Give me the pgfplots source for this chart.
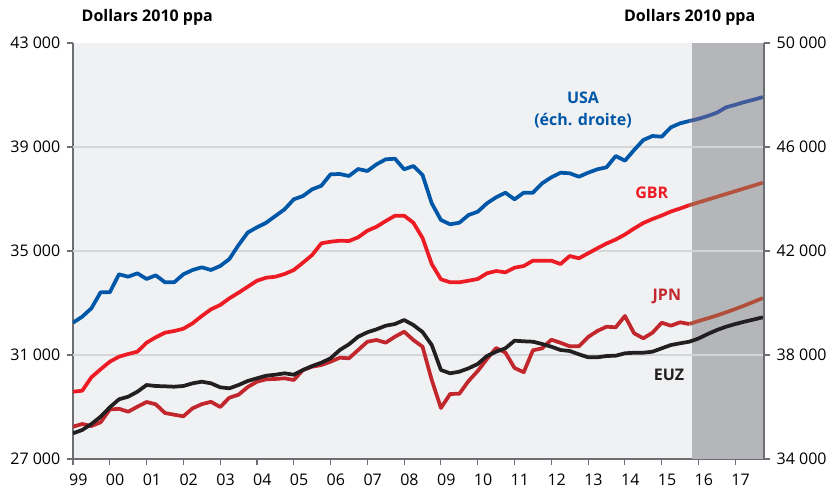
\documentclass[border=0pt]{standalone}
\usepackage{pgfplots}
\pgfplotsset{compat=1.18}
\usepackage{pgfplotstable}
\usepackage{fontspec}
\setmainfont{Open Sans}
\definecolor{usa}{HTML}{0057A8}
\definecolor{usaf}{HTML}{3F5B9B}
\definecolor{gbr}{HTML}{ED1C24}
\definecolor{gbrf}{HTML}{B4533E}
\definecolor{jpn}{HTML}{C1272D}
\definecolor{jpnf}{HTML}{B0503C}
\definecolor{euz}{HTML}{231F20}
\definecolor{bgc}{HTML}{F0F1F3}
\definecolor{fc}{HTML}{B5B6B9}
\definecolor{gridc}{HTML}{D5D6D9}
\definecolor{axc}{HTML}{6D6E71}

\pgfplotstableread{
t usa gbr jpn euz
1999.00 39242 29588 28242 27988
1999.25 39473 29627 28346 28115
1999.50 39796 30142 28269 28346
1999.75 40411 30450 28411 28627
2000.00 40411 30742 28904 28988
2000.25 41104 30934 28931 29296
2000.50 41011 31038 28819 29396
2000.75 41142 31127 29011 29588
2001.00 40923 31473 29192 29846
2001.25 41065 31681 29104 29808
2001.50 40796 31858 28769 29796
2001.75 40796 31923 28704 29781
2002.00 41104 32011 28642 29808
2002.25 41269 32219 28950 29911
2002.50 41373 32500 29108 29973
2002.75 41269 32757 29200 29911
2003.00 41423 32923 29000 29758
2003.25 41692 33180 29358 29719
2003.50 42231 33396 29473 29846
2003.75 42711 33627 29769 30000
2004.00 42911 33857 29973 30104
2004.25 43088 33973 30065 30204
2004.50 43346 34011 30077 30242
2004.75 43603 34115 30104 30296
2005.00 43988 34269 30038 30242
2005.25 44115 34550 30423 30423
2005.50 44373 34846 30550 30577
2005.75 44511 35296 30615 30704
2006.00 44950 35357 30742 30873
2006.25 44961 35396 30896 31192
2006.50 44884 35384 30873 31411
2006.75 45153 35527 31192 31704
2007.00 45076 35780 31511 31873
2007.25 45334 35934 31577 31988
2007.50 45526 36153 31473 32127
2007.75 45550 36357 31704 32192
2008.00 45142 36357 31896 32346
2008.25 45269 36088 31577 32154
2008.50 44923 35500 31319 31884
2008.75 43834 34500 30038 31384
2009.00 43192 33911 28962 30423
2009.25 43027 33796 29500 30296
2009.50 43088 33796 29511 30358
2009.75 43384 33857 30000 30488
2010.00 43511 33923 30385 30654
2010.25 43834 34142 30846 30961
2010.50 44065 34230 31269 31127
2010.75 44242 34180 31096 31257
2011.00 43988 34357 30500 31550
2011.25 44242 34423 30338 31527
2011.50 44242 34627 31181 31511
2011.75 44603 34627 31257 31423
2012.00 44834 34627 31588 31319
2012.25 45011 34500 31469 31192
2012.50 44988 34807 31334 31154
2012.75 44857 34719 31334 31027
2013.00 45011 34911 31692 30911
2013.25 45142 35104 31923 30911
2013.50 45219 35288 32088 30961
2013.75 45653 35442 32065 30973
2014.00 45473 35634 32500 31065
2014.25 45884 35865 31834 31088
2014.50 46269 36077 31642 31088
2014.75 46423 36230 31858 31127
2015.00 46396 36365 32242 31257
2015.25 46757 36519 32127 31384
2015.50 46911 36634 32257 31450
2015.75 47000 36761 32192 31511
2016.00 47084 36869 32307 31634
2016.25 47192 36977 32411 31807
2016.50 47319 37085 32519 31961
2016.75 47526 37193 32642 32088
2017.00 47623 37301 32769 32192
2017.25 47730 37410 32903 32281
2017.50 47819 37518 33046 32365
2017.75 47922 37627 33192 32450
}\data

\begin{document}
\begin{tikzpicture}
\pgfplotsset{
  common/.style={
    scale only axis, width=518.25pt, height=312pt,
    xmin=1999, xmax=2017.78,
    scaled y ticks=false, scaled x ticks=false,
    tick align=outside, major tick length=4.5pt,
    tick style={axc, line width=0.8pt},
    axis line style={axc, line width=1.4pt},
    ticklabel style={font=\fontsize{12}{14}\selectfont, text=black},
  }
}
\begin{axis}[common, name=L,
  ymin=27000, ymax=43000,
  axis y line*=left, axis x line*=bottom,
  axis background/.style={fill=bgc},
  xtick={1999,2000,...,2017},
  xticklabels={99,00,01,02,03,04,05,06,07,08,09,10,11,12,13,14,15,16,17},
  xticklabel style={xshift=4pt, yshift=-3pt},
  ytick={27000,31000,35000,39000,43000},
  yticklabels={27 000,31 000,35 000,39 000,43 000},
  yticklabel style={xshift=-1.5pt},
  clip=true,
]
\addplot[draw=none, fill=fc] coordinates {(2015.82,27000) (2017.78,27000) (2017.78,43000) (2015.82,43000)} -- cycle;
\addplot[gridc, line width=0.8pt] coordinates {(1999,39000) (2017.78,39000)};
\addplot[gridc, line width=0.8pt] coordinates {(1999,35000) (2017.78,35000)};
\addplot[gridc, line width=0.8pt] coordinates {(1999,31000) (2017.78,31000)};
\addplot[gbr, line width=2.8pt, line join=round, restrict x to domain=1999:2015.8] table[x=t,y=gbr] {\data};
\addplot[gbrf, line width=2.8pt, line join=round, restrict x to domain=2015.7:2018] table[x=t,y=gbr] {\data};
\addplot[jpn, line width=2.8pt, line join=round, restrict x to domain=1999:2015.8] table[x=t,y=jpn] {\data};
\addplot[jpnf, line width=2.8pt, line join=round, restrict x to domain=2015.7:2018] table[x=t,y=jpn] {\data};
\addplot[euz, line width=2.8pt, line join=round] table[x=t,y=euz] {\data};
\end{axis}
\begin{axis}[common,
  ymin=34000, ymax=50000,
  axis y line*=right, axis x line=none,
  ytick={34000,38000,42000,46000,50000},
  yticklabels={34 000,38 000,42 000,46 000,50 000},
  yticklabel style={xshift=1.5pt},
]
\addplot[usa, line width=2.8pt, line join=round, restrict x to domain=1999:2015.8] table[x=t,y=usa] {\data};
\addplot[usaf, line width=2.8pt, line join=round, restrict x to domain=2015.7:2018] table[x=t,y=usa] {\data};
\end{axis}
\begin{scope}[font=\fontsize{12}{14}\selectfont\bfseries]
\node[anchor=base west] at ([xshift=3pt,yshift=16pt]L.north west) {Dollars 2010 ppa};
\node[anchor=base east] at ([xshift=-3pt,yshift=16pt]L.north east) {Dollars 2010 ppa};
\end{scope}
\begin{axis}[common, ymin=27000, ymax=43000, axis lines=none, clip=false]
\begin{scope}[font=\fontsize{12}{14}\selectfont\bfseries]
\node[usa] at (axis cs:2012.86,40884) {USA};
\node[usa] at (axis cs:2012.86,40000) {(éch. droite)};
\node[gbr] at (axis cs:2014.73,37230) {GBR};
\node[jpn] at (axis cs:2015.14,33269) {JPN};
\node[euz] at (axis cs:2015.20,30231) {EUZ};
\end{scope}
\end{axis}
\pgfresetboundingbox
\path ([xshift=-54.75pt,yshift=-22.5pt]L.south west) rectangle ([xshift=51pt,yshift=32.25pt]L.north east);
\end{tikzpicture}
\end{document}
